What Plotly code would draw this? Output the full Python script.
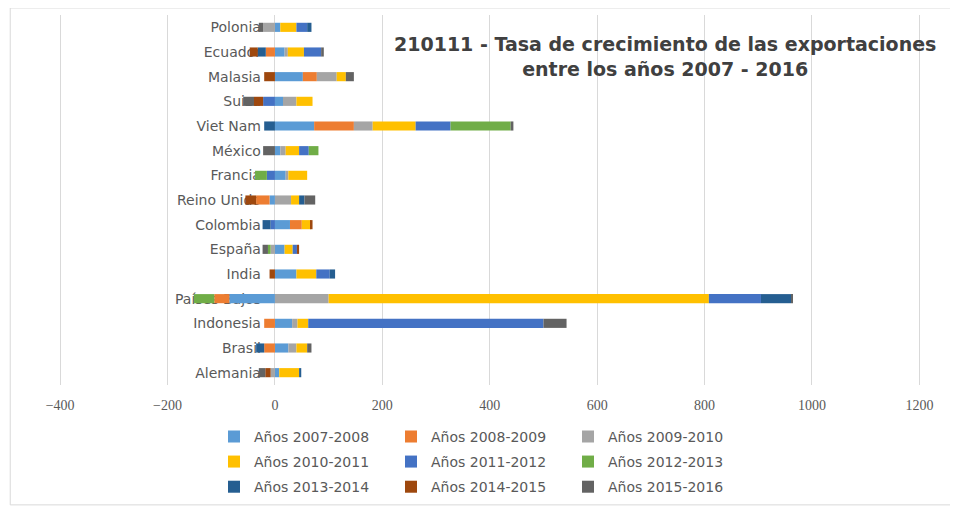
import plotly.graph_objects as go

# Countries, top to bottom as in the chart
paises = ['Polonia', 'Ecuador', 'Malasia', 'Suiza', 'Viet Nam', 'México', 'Francia',
          'Reino Unido', 'Colombia', 'España', 'India', 'Países Bajos', 'Indonesia',
          'Brasil', 'Alemania']

# Growth rates (%) per period, same order as paises
a2007_2008 = [10, 18, 52, 15, 73, 10, 20, -10, 28, 18, 40, -85, 32, 25, 8]
a2008_2009 = [0, -17, 26, 0, 74, 0, 0, -25, 22, 0, 0, -28, -20, -20, 0]
a2009_2010 = [-22, 6, 37, 25, 35, 10, 5, 30, 0, -8, 0, 100, 10, 15, -8]
a2010_2011 = [30, 30, 17, 30, 80, 25, 35, 15, 17, 15, 37, 708, 20, 20, 37]
a2011_2012 = [20, 32, 0, -22, 65, 18, -15, 0, -8, 8, 25, 97, 438, 0, 0]
a2012_2013 = [0, 0, 0, 0, 112, 18, -22, 0, 0, -5, 0, -38, 0, 0, 0]
a2013_2014 = [8, -15, 0, 0, -20, 0, 0, 10, -15, 0, 10, 56, 0, -15, 4]
a2014_2015 = [0, -15, -20, -17, 0, 0, 0, -20, 3, 4, -10, 0, 0, 0, -10]
a2015_2016 = [-8, 5, 15, -20, 5, -22, 0, 20, 0, -10, 0, 3, 43, 8, -12]

series = [
    ('Años 2007-2008', a2007_2008, '#5B9BD5', 'legend'),
    ('Años 2008-2009', a2008_2009, '#ED7D31', 'legend'),
    ('Años 2009-2010', a2009_2010, '#A5A5A5', 'legend'),
    ('Años 2010-2011', a2010_2011, '#FFC000', 'legend2'),
    ('Años 2011-2012', a2011_2012, '#4472C4', 'legend2'),
    ('Años 2012-2013', a2012_2013, '#70AD47', 'legend2'),
    ('Años 2013-2014', a2013_2014, '#255E91', 'legend3'),
    ('Años 2014-2015', a2014_2015, '#9E480E', 'legend3'),
    ('Años 2015-2016', a2015_2016, '#636363', 'legend3'),
]

x_min, x_max = -430, 1270

fig = go.Figure()
for name, vals, color, leg in series:
    fig.add_trace(go.Bar(
        y=paises,
        x=vals,
        name=name,
        orientation='h',
        marker=dict(color=color, line=dict(width=0)),
        legend=leg
    ))

leg_common = dict(orientation='h', xanchor='center', x=0.477, yanchor='middle',
                  font=dict(family='DejaVu Sans', size=14, color='#595959'),
                  entrywidth=132, itemwidth=30, bgcolor='rgba(0,0,0,0)')

# the page adds an 8px body margin, so margins are trimmed to compensate
fig.update_layout(
    barmode='relative',
    bargap=0.63,
    width=958,
    height=511,
    margin=dict(l=36, r=9, t=7, b=134, autoexpand=False),
    paper_bgcolor='white',
    plot_bgcolor='white',
    title=dict(
        text='<b>210111 - Tasa de crecimiento de las exportaciones<br>entre los años 2007 - 2016</b>',
        x=0.686, xanchor='center', y=0.915, yanchor='top',
        font=dict(family='DejaVu Sans', size=19, color='#404040')
    ),
    xaxis=dict(
        range=[x_min, x_max],
        automargin=False,
        tickvals=[-400, -200, 0, 200, 400, 600, 800, 1000, 1200],
        showgrid=True, gridcolor='#D9D9D9', gridwidth=1,
        zeroline=True, zerolinecolor='#D9D9D9', zerolinewidth=1,
        showline=False,
        tickfont=dict(family='Liberation Serif', size=14, color='#595959'),
        ticks='', ticklabelstandoff=10
    ),
    yaxis=dict(
        anchor='free',
        automargin=False,
        position=(0 - x_min) / (x_max - x_min),
        layer='below traces',
        autorange='reversed',
        showgrid=False, showline=False, zeroline=False,
        ticks='', ticklabelstandoff=14,
        tickfont=dict(family='DejaVu Sans', size=14, color='#595959')
    ),
    legend=dict(y=-0.14, **leg_common),
    legend2=dict(y=-0.208, **leg_common),
    legend3=dict(y=-0.276, **leg_common),
    showlegend=True,
)

# light chart border like the original
fig.add_shape(type='rect', xref='paper', yref='paper',
              x0=-0.037, x1=1.06, y0=-0.324, y1=1.019,
              line=dict(color='#D9D9D9', width=1), layer='below')

fig.write_html("out.html")
